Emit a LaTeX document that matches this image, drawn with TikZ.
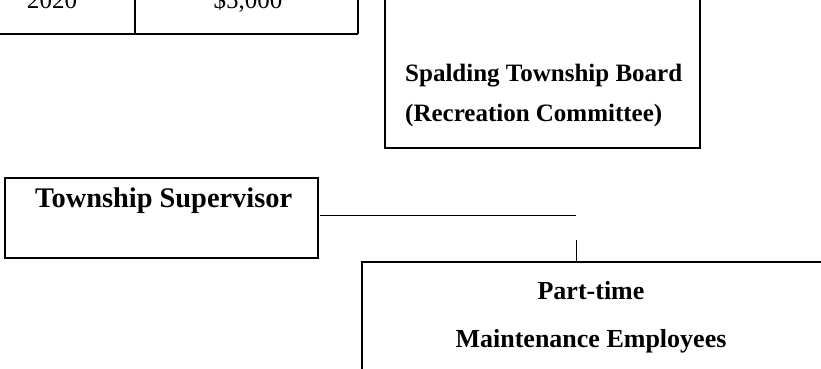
\documentclass[tikz,border=0pt]{standalone}
\usepackage{fontspec}
\setmainfont{Liberation Serif}
\begin{document}
\begin{tikzpicture}[x=1pt,y=-1pt,
  boxline/.style={line width=1.6pt},
  conn/.style={line width=0.8pt},
  lbl/.style={font=\fontsize{25}{30}\selectfont\bfseries, inner sep=0pt},
  cell/.style={font=\fontsize{25}{30}\selectfont, inner sep=0pt, anchor=base}]
\useasboundingbox (0,0) rectangle (821,368);
\clip (0,0) rectangle (821,368);
% cropped table at top
\node[cell] (y2020) at (52,8) {2020};
\node[cell] (amt) at (248,8) {\$5,000};
\draw[boxline] (0,34) -- (358,34);
\draw[boxline] (135,-5) -- (135,34);
\draw[boxline] (358,-5) -- (358,34);
% Spalding Township Board box
\draw[boxline] (385,-5) -- (385,148) -- (700,148) -- (700,-5);
\node[lbl, anchor=base west] (sb1) at (405,81) {Spalding Township Board};
\node[lbl, anchor=base west] (sb2) at (405,121) {(Recreation Committee)};
% Township Supervisor box
\draw[boxline] (5,178) rectangle (318,258);
\node[lbl, font=\fontsize{28.4}{34}\selectfont\bfseries, anchor=base west] (ts) at (35,207) {Township Supervisor};
\coordinate (tsr) at (320,215);
\coordinate (jn) at (576,215);
% Part-time box (cropped)
\draw[boxline] (830,262) -- (362,262) -- (362,380);
\node[lbl, font=\fontsize{26}{31}\selectfont\bfseries, anchor=base] (pt1) at (591,299) {Part-time};
\node[lbl, font=\fontsize{26}{31}\selectfont\bfseries, anchor=base] (pt2) at (591,347) {Maintenance Employees};
\coordinate (ptt) at (576,262);
\coordinate (vs) at (576,240);
% connectors
\draw[conn] (tsr) -- (jn);
\draw[conn] (vs) -- (ptt);
\end{tikzpicture}
\end{document}
